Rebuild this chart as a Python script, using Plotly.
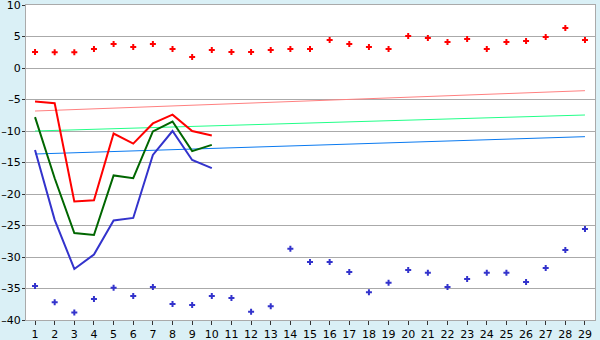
import plotly.graph_objects as go

cats = list(range(1, 30))
line_cats = list(range(1, 11))

red_line = [-5.3, -5.6, -21.2, -21.0, -10.4, -12.0, -8.8, -7.4, -10.0, -10.7]
green_line = [-7.8, -17.5, -26.2, -26.5, -17.05, -17.5, -10.06, -8.5, -13.2, -12.2]
blue_line = [-13.0, -24.1, -31.9, -29.6, -24.2, -23.8, -13.8, -10.0, -14.6, -15.9]

red_pts = [2.54, 2.5, 2.5, 3.0, 3.8, 3.33, 3.8, 3.0, 1.75, 2.86,
           2.54, 2.54, 2.86, 3.0, 3.0, 4.44, 3.8, 3.33, 3.0, 5.08,
           4.76, 4.13, 4.6, 3.0, 4.13, 4.29, 4.92, 6.35, 4.44]
blue_pts = [-34.6, -37.2, -38.8, -36.67, -34.9, -36.2, -34.76, -37.46, -37.6, -36.2,
            -36.5, -38.7, -37.8, -28.7, -30.8, -30.8, -32.4, -35.6, -34.1, -32.06,
            -32.5, -34.76, -33.5, -32.5, -32.5, -33.97, -31.75, -28.9, -25.56]

trend_x = [1, 29]
pink_trend = [-6.83, -3.6]
green_trend = [-10.0, -7.46]
blue_trend = [-13.65, -10.9]

y_ticks = [10, 5, 0, -5, -10, -15, -20, -25, -30, -35, -40]
y_labels = [str(v).replace("-", "\u2013") for v in y_ticks]

fig = go.Figure()
fig.add_trace(go.Scatter(x=trend_x, y=pink_trend, mode="lines", line=dict(color="#FF8080", width=1)))
fig.add_trace(go.Scatter(x=trend_x, y=green_trend, mode="lines", line=dict(color="#22FF88", width=1)))
fig.add_trace(go.Scatter(x=trend_x, y=blue_trend, mode="lines", line=dict(color="#0A7AF0", width=1)))
fig.add_trace(go.Scatter(x=line_cats, y=red_line, mode="lines", line=dict(color="#FF0000", width=2)))
fig.add_trace(go.Scatter(x=line_cats, y=green_line, mode="lines", line=dict(color="#006600", width=2)))
fig.add_trace(go.Scatter(x=line_cats, y=blue_line, mode="lines", line=dict(color="#3333CC", width=2)))
fig.add_trace(go.Scatter(x=cats, y=red_pts, mode="markers",
                         marker=dict(symbol="cross", size=5, color="#FF0000")))
fig.add_trace(go.Scatter(x=cats, y=blue_pts, mode="markers",
                         marker=dict(symbol="cross", size=5, color="#3333CC")))

fig.update_layout(
    width=600, height=340,
    margin=dict(l=26, r=5, t=5, b=20, autoexpand=False),
    paper_bgcolor="#DAF0F6", plot_bgcolor="#FFFFFF",
    showlegend=False,
    font=dict(family="DejaVu Sans", size=11, color="#000000"),
)
fig.update_xaxes(
    range=[0.54, 29.51], tickvals=cats, ticktext=[str(c) for c in cats],
    showgrid=False, zeroline=False, automargin=False,
    showline=True, linecolor="#AAAAAA", linewidth=1, mirror=True,
    ticks="outside", ticklen=4, tickcolor="#333333", ticklabelstandoff=0,
    ticklabeloverflow="allow",
)
fig.update_yaxes(
    range=[-40, 10], tickvals=y_ticks, ticktext=y_labels,
    showgrid=True, gridcolor="#AAAAAA", gridwidth=1, zeroline=False, automargin=False,
    showline=True, linecolor="#AAAAAA", linewidth=1, mirror=True,
    ticks="outside", ticklen=3, tickcolor="#333333", ticklabelstandoff=-1,
    ticklabeloverflow="allow",
)
fig.write_html("out.html")
